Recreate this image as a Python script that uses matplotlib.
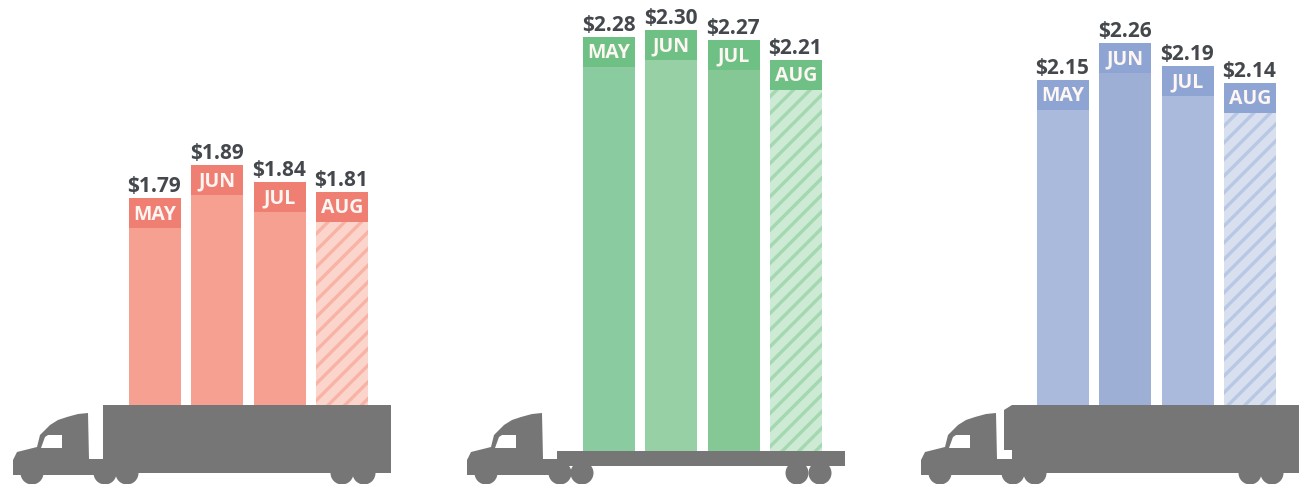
import matplotlib
matplotlib.use('Agg')
import matplotlib.pyplot as plt
from matplotlib.patches import Polygon, Rectangle, Circle

plt.rcParams['font.family'] = ['Open Sans', 'DejaVu Sans']
plt.rcParams['hatch.linewidth'] = 2.4

# Datos
months = ['MAY', 'JUN', 'JUL', 'AUG']
prices_red = [1.79, 1.89, 1.84, 1.81]
prices_green = [2.28, 2.30, 2.27, 2.21]
prices_blue = [2.15, 2.26, 2.19, 2.14]
bases = [1.164, 1.024, 1.164]

groups = [prices_red, prices_green, prices_blue]
group_x = [155, 609, 1063]
stripe = ['#f8b3a6', '#a3d8b0', '#b8c7e3']
shades = [['#f5a091', '#f5a091', '#f5a091', '#fbd5cb'],
          ['#8accA0', '#98d0a6', '#85c795', '#cdeAd4'],
          ['#a9badc', '#9dafd5', '#a9badc', '#d8e0f0']]
dark = ['#ef7f73', '#6fc085', '#8ea5d3']
grey = '#767676'
text_col = '#44484c'

fig = plt.figure(figsize=(13.08, 4.88), dpi=100)
ax = fig.add_axes([0, 0, 1, 1])
ax.set_xlim(0, 1308)
ax.set_ylim(0.912, 2.391)   # 330 px por dolar
ax.axis('off')

band = 0.091
for g, prices in enumerate(groups):
    for i, p in enumerate(prices):
        x = group_x[g] + i * 62.3
        if i == 3:
            ax.bar(x, p - bases[g], 52, bottom=bases[g], color=shades[g][i],
                   hatch='//', edgecolor=stripe[g], linewidth=0)
        else:
            ax.bar(x, p - bases[g], 52, bottom=bases[g], color=shades[g][i])
        ax.bar(x, band, 52, bottom=p - band, color=dark[g])
        ax.text(x, p - band / 2 - 0.004, months[i], color='#fdf6f2', fontsize=14,
                fontweight='bold', ha='center', va='center')
        ax.text(x - 0.5, p + 0.003, '$%.2f' % p, color=text_col, fontsize=15,
                fontweight='bold', ha='center', va='bottom')

# Camiones, en pixeles
tr = fig.add_axes([0, 0, 1, 1])
tr.set_xlim(0, 1308)
tr.set_ylim(488, 0)
tr.axis('off')
tr.patch.set_alpha(0)


def truck(x0, trailer, wheels):
    cab = [(13, 475), (13, 460), (17, 452), (37, 447), (40, 435), (50, 425), (58, 420),
           (67, 417), (78, 414), (88, 413), (89, 459), (110, 459), (110, 475)]
    tr.add_patch(Polygon([(x + x0, y) for x, y in cab], color=grey, lw=0))
    tr.add_patch(Polygon([(x0 + 41, 448), (x0 + 45, 437), (x0 + 48, 435), (x0 + 62, 435), (x0 + 62, 448)],
                         color='white', lw=0))
    tr.add_patch(Polygon([(x + x0, y) for x, y in trailer], color=grey, lw=0))
    for w in wheels:
        tr.add_patch(Circle((x0 + w, 473), 11.5, color=grey, lw=0))
    # la imagen corta las ruedas abajo
    tr.add_patch(Rectangle((x0, 484), 400, 4, color='white', lw=0, zorder=5))


truck(0, [(103, 405), (391, 405), (391, 473), (103, 473)], [32, 105, 127, 342, 364])
truck(454, [(103, 451), (391, 451), (391, 466), (103, 466)], [32, 106, 128, 343, 366])
truck(908, [(104, 405), (391, 405), (391, 473), (104, 473), (104, 450), (96, 450), (96, 410)],
      [32, 105, 127, 342, 364])

fig.savefig('out.png', dpi=100)
